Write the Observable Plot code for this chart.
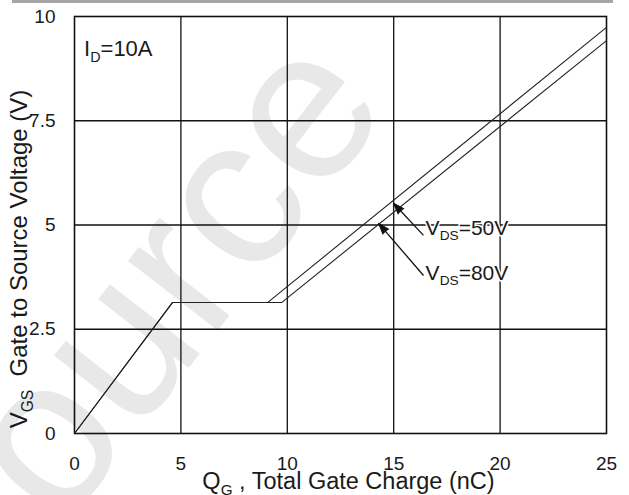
<!DOCTYPE html>
<html>
<head>
<meta charset="utf-8">
<script src="https://cdn.jsdelivr.net/npm/d3@7"></script>
<script src="https://cdn.jsdelivr.net/npm/@observablehq/plot@0.6"></script>
<style>
  html, body { margin: 0; padding: 0; background: #fff; }
  svg { display: block; }
</style>
</head>
<body>
<div id="chart"></div>
<script>
// ---- data ----
const xTicks = [0, 5, 10, 15, 20, 25];
const yTicks = [0, 2.5, 5, 7.5, 10];
const xGrid = [5, 10, 15, 20];
const yGrid = [2.5, 5, 7.5];

const vds50Q = [0, 4.6, 9.07, 25];
const vds50V = [0, 3.14, 3.14, 9.74];
const vds80Q = [0, 4.6, 9.73, 25];
const vds80V = [0, 3.14, 3.14, 9.42];

const seriesNames = ["VDS=50V", "VDS=80V"];
const labelText = ["V{DS}=50V", "V{DS}=80V"];
const labelQ = [16.5, 16.5];
const labelV = [4.92, 3.85];
const arrowTailQ = [16.4, 16.4];
const arrowTailV = [4.75, 3.79];
const arrowTipQ = [14.99, 14.29];
const arrowTipV = [5.52, 5.04];

const idText = "I{D}=10A";
const idQ = 0.45, idV = 9.21;
const xTitle = "Q{G} , Total Gate Charge (nC)";
const yTitle = "V{GS}  Gate to Source Voltage (V)";
const watermark = "Source";

// ---- build tables ----
const curve50 = vds50Q.map((q, i) => ({q, v: vds50V[i]}));
const curve80 = vds80Q.map((q, i) => ({q, v: vds80V[i]}));
const arrows = seriesNames.map((s, i) => ({
  x1: arrowTailQ[i], y1: arrowTailV[i], x2: arrowTipQ[i], y2: arrowTipV[i],
  lx: labelQ[i], ly: labelV[i], label: labelText[i]
}));

const W = 629, H = 495, mL = 74, mR = 23, mT = 16, mB = 62;
const kx = (W - mL - mR) / 25, ky = (H - mT - mB) / 10;
arrows.forEach(a => {
  const dx = (a.x2 - a.x1) * kx, dy = -(a.y2 - a.y1) * ky;
  a.angle = Math.atan2(dx, -dy) * 180 / Math.PI;
});

const font = "'Liberation Sans', Arial, sans-serif";
const ink = "#1a1a1a";

const plot = Plot.plot({
  width: W, height: H,
  marginLeft: mL, marginRight: mR, marginTop: mT, marginBottom: mB,
  style: {fontFamily: font, fontSize: "19px", color: ink, background: "#fff"},
  x: {domain: [0, 25], ticks: xTicks, tickSize: 0, tickPadding: 23, label: null, tickFormat: d => String(d)},
  y: {domain: [0, 10], ticks: yTicks, tickSize: 0, tickPadding: 19, label: null, tickFormat: d => String(d)},
  marks: [
    Plot.text([watermark], {frameAnchor: "middle", text: d => d, dx: -212, dy: 108, rotate: -52,
      fontSize: 215, fill: "#e8e8e8"}),
    Plot.ruleX(xGrid, {stroke: "#111", strokeWidth: 1.3}),
    Plot.ruleY(yGrid, {stroke: "#111", strokeWidth: 1.3}),
    Plot.frame({stroke: "#111", strokeWidth: 1.6}),
    Plot.line(curve50, {x: "q", y: "v", stroke: "#222", strokeWidth: 1.1}),
    Plot.line(curve80, {x: "q", y: "v", stroke: "#222", strokeWidth: 1.1}),
    Plot.link(arrows, {x1: "x1", y1: "y1", x2: "x2", y2: "y2", stroke: "#111", strokeWidth: 1.3}),
    Plot.vector(arrows, {x: "x2", y: "y2", rotate: "angle", shape: "spike", anchor: "end",
      length: 11, r: 3.8, fill: "#111", stroke: "#111", strokeWidth: 1}),
    Plot.text(arrows, {x: "lx", y: "ly", text: "label", textAnchor: "start", fontSize: 21, fill: ink,
      stroke: "#fff", strokeWidth: 3, paintOrder: "stroke"}),
    Plot.text([idText], {x: () => idQ, y: () => idV, text: d => d, textAnchor: "start", fontSize: 22, fill: ink}),
    Plot.text([xTitle], {frameAnchor: "bottom", lineAnchor: "middle", text: d => d, dx: 8, dy: 48, fontSize: 23.5, fill: ink}),
    Plot.text([yTitle], {frameAnchor: "left", textAnchor: "middle", lineAnchor: "middle", text: d => d, dx: -55, dy: 34, rotate: -90, fontSize: 24, fill: ink})
  ]
});

// subscripts: turn "A{B}C" into tspans
d3.select(plot).selectAll("text").each(function() {
  const t = this.textContent;
  if (!t.includes("{")) return;
  let el = this, fs = NaN;
  while (el && el.getAttribute) {
    const a = el.getAttribute("font-size");
    if (a) { fs = parseFloat(a); break; }
    el = el.parentNode;
  }
  if (!(fs > 0)) fs = 19;
  const sel = d3.select(this);
  sel.text(null);
  const parts = t.split(/(\{[^}]*\})/).filter(p => p.length);
  const shift = fs * 0.25;
  let lowered = false;
  parts.forEach(p => {
    if (p.startsWith("{")) {
      sel.append("tspan").attr("font-size", (fs * 0.65).toFixed(1)).attr("dy", shift).text(p.slice(1, -1));
      lowered = true;
    } else {
      const ts = sel.append("tspan").text(p);
      if (lowered) { ts.attr("dy", -shift); lowered = false; }
    }
  });
});

// thin gray rule along the top edge of the picture
d3.select(plot).insert("rect", ":first-child")
  .attr("x", 12).attr("y", 0).attr("width", 601).attr("height", 3).attr("fill", "#a6a6a6");

document.getElementById("chart").appendChild(plot);
</script>
</body>
</html>
